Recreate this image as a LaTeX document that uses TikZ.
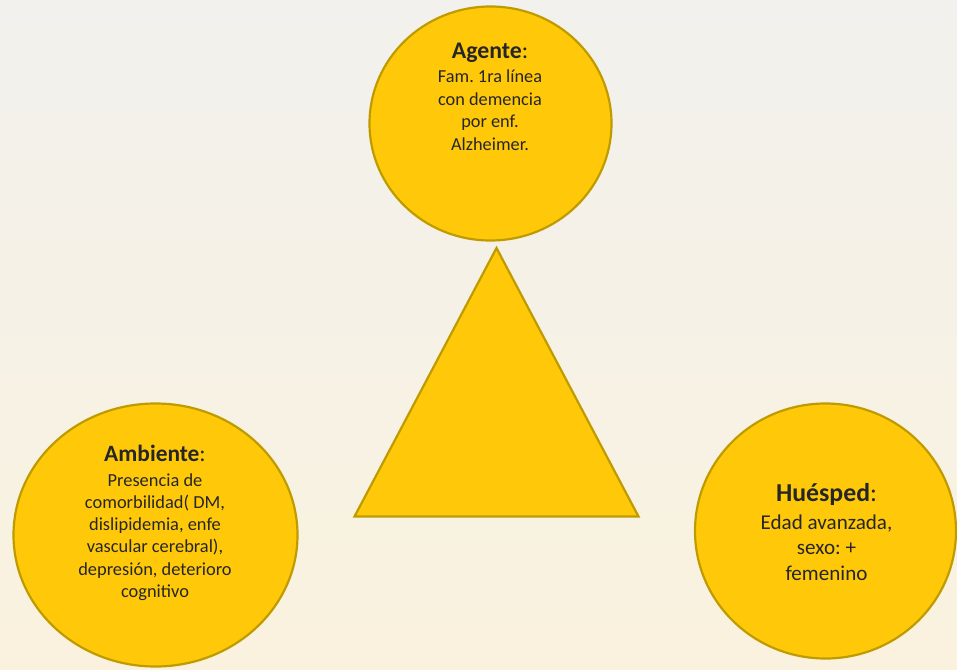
\documentclass[tikz,border=0pt]{standalone}
\usepackage{fontspec}
\setmainfont{Carlito}
\usetikzlibrary{shapes.geometric}
\definecolor{gold}{RGB}{255,201,10}
\definecolor{goldline}{RGB}{191,155,0}
\definecolor{txt}{RGB}{38,38,38}
\definecolor{bgtop}{RGB}{242,241,237}
\definecolor{bgbot}{RGB}{250,242,222}
\tikzset{
  blob/.style={ellipse, fill=gold, draw=goldline, line width=2.2pt, inner sep=0pt},
  ln/.style={anchor=base, inner sep=0pt, text=txt},
  agbody/.style={ln, font=\fontsize{18.3}{22}\selectfont},
  agtitle/.style={ln, font=\fontsize{23.8}{28}\selectfont},
  ambody/.style={ln, font=\fontsize{18.4}{22}\selectfont},
  amtitle/.style={ln, font=\fontsize{23.4}{28}\selectfont},
  hubody/.style={ln, font=\fontsize{21.1}{25}\selectfont},
  hutitle/.style={ln, font=\fontsize{25.8}{30}\selectfont},
}
\frenchspacing
\begin{document}
\begin{tikzpicture}[x=1pt,y=-1pt]
\useasboundingbox (0,0) rectangle (957,669);
\shade[top color=bgtop, bottom color=bgbot] (0,0) rectangle (957,669);

% circles
\node[blob, minimum width=242pt, minimum height=234pt] (agente) at (490.5,123.5) {};
\node[blob, minimum width=284pt, minimum height=263pt] (ambiente) at (155.5,535) {};
\node[blob, minimum width=261pt, minimum height=255pt] (huesped) at (825.5,531) {};

% triangle
\coordinate (tA) at (496.5,248);
\coordinate (tB) at (354.5,516.5);
\coordinate (tC) at (638.5,516.5);
\draw[fill=gold, draw=goldline, line width=2.2pt, line join=miter] (tA) -- (tB) -- (tC) -- cycle;

% Agente text
\node[agtitle] (agT) at (490,58.3) {\textbf{Agente}:};
\node[agbody] (ag1) at (490,82.3) {Fam. 1ra línea};
\node[agbody] (ag2) at (490,105) {con demencia};
\node[agbody] (ag3) at (490,127.7) {por enf.};
\node[agbody] (ag4) at (490,150) {Alzheimer.};

% Ambiente text
\node[amtitle] (amT) at (155,461.7) {\textbf{Ambiente}:};
\node[ambody] (am1) at (155,486) {Presencia de};
\node[ambody] (am2) at (155,508.3) {comorbilidad( DM,};
\node[ambody] (am3) at (155,530.7) {dislipidemia, enfe};
\node[ambody] (am4) at (155,552.7) {vascular cerebral),};
\node[ambody] (am5) at (155,575.7) {depresión, deterioro};
\node[ambody] (am6) at (155,597.3) {cognitivo};

% Huesped text
\node[hutitle] (huT) at (826.5,501.7) {\textbf{Huésped}:};
\node[hubody] (hu1) at (826.5,529) {Edad avanzada,};
\node[hubody] (hu2) at (826.5,554) {sexo: +};
\node[hubody] (hu3) at (826.5,580) {femenino};
\end{tikzpicture}
\end{document}
